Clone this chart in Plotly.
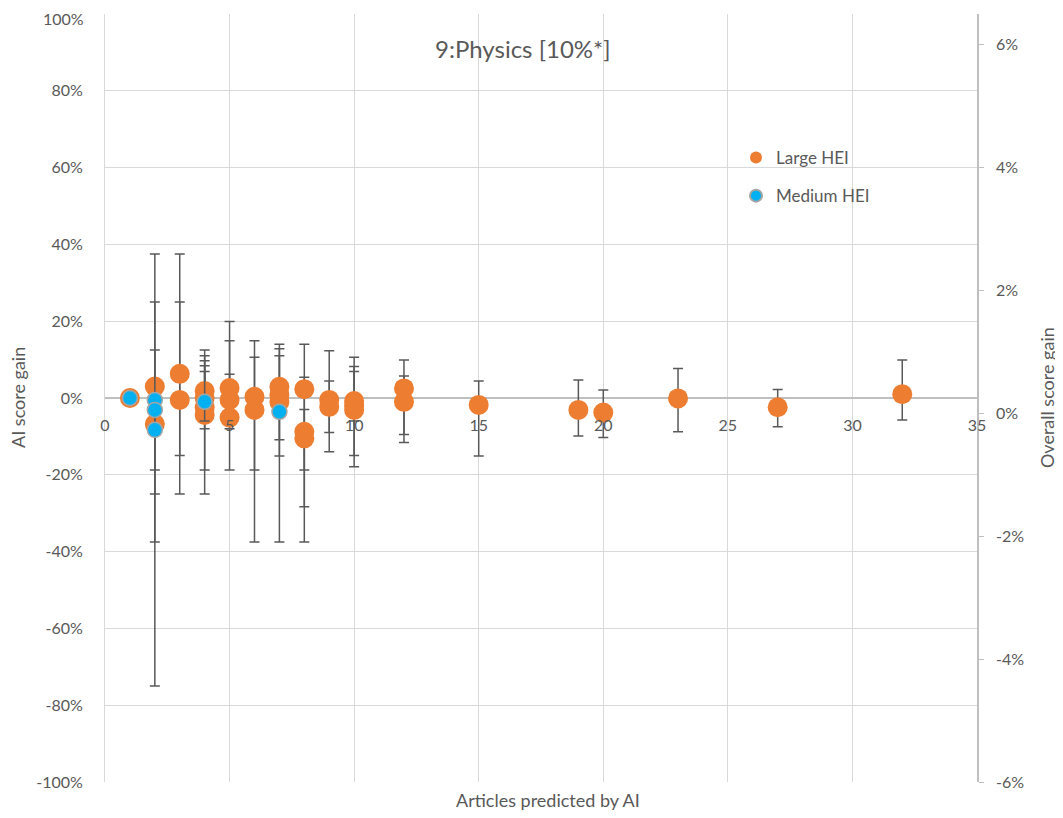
import plotly.graph_objects as go

# ---- data (AI score gain, %) ----
large_x = [1, 2, 2, 3, 3, 4, 4, 4, 4, 5, 5, 5, 6, 6, 7, 7, 7, 8, 8, 8, 9, 9, 10, 10, 10, 12, 12, 15, 19, 20, 23, 27, 32]
large_y = [0, 3.0, -6.8, 6.3, -0.5, 1.8, -2.5, -4.4, 0.0, 2.6, -0.5, -5.1, 0.3, -3.1, 2.9, 0.8, -1.0, 2.3, -8.8, -10.5, -0.5, -2.3, -0.8, -3.1, -2.0, 2.5, -1.0, -1.8, -3.1, -3.8, -0.1, -2.4, 1.0]
large_hi = [0, 37.5, 25.0, 37.5, 25.0, 12.5, 9.7, 11.0, 6.9, 19.9, 14.9, 6.2, 14.9, 10.6, 14.0, 12.8, 11.0, 14.0, 5.4, -3.0, 12.3, 4.4, 10.6, 8.2, 6.9, 9.9, 5.7, 4.4, 4.7, 2.1, 7.7, 2.2, 9.9]
large_lo = [0, -37.5, -18.75, -25.0, -15.0, -25.0, -8.0, -18.75, -5.0, -18.75, -7.0, -8.0, -37.5, -18.75, -37.5, -15.1, -10.9, -37.5, -28.3, -18.75, -14.0, -9.0, -17.9, -15.0, -6.0, -11.6, -9.5, -15.1, -9.9, -10.3, -8.8, -7.5, -5.7]

medium_x = [1, 2, 2, 2, 4, 7]
medium_y = [0, -0.5, -3.1, -8.3, -1.0, -3.6]
medium_hi = [0, -0.5, -3.1, 12.5, 8.4, -3.6]
medium_lo = [0, -0.5, -25.0, -75.0, -6.0, -3.6]

y_ticks = [-100, -80, -60, -40, -20, 0, 20, 40, 60, 80, 100]
y2_ticks = [-6, -4, -2, 0, 2, 4, 6]
x_ticks = [0, 5, 10, 15, 20, 25, 30, 35]

FONT = "Lato"
TXT = "#595959"
ORANGE = "#ED7D31"
BLUE = "#00B0F0"
ERR = "#595959"

def errs(y, hi, lo):
    return [h - v for v, h in zip(y, hi)], [v - l for v, l in zip(y, lo)]

lp, lm = errs(large_y, large_hi, large_lo)
mp, mm = errs(medium_y, medium_hi, medium_lo)

# top tick label is drawn as an annotation so it is not clipped at the page edge
y_ticktext = [f"{v}%" if v != max(y_ticks) else "" for v in y_ticks]

fig = go.Figure()
fig.add_trace(go.Scatter(
    x=large_x, y=large_y, mode="markers", name="Large HEI", legendgroup="a",
    marker=dict(color=ORANGE, size=20, line=dict(width=0)),
    error_y=dict(type="data", array=lp, arrayminus=lm, color=ERR, thickness=1.5, width=5),
))
fig.add_trace(go.Scatter(
    x=medium_x, y=medium_y, mode="markers", name="Medium HEI", legendgroup="b",
    marker=dict(color=BLUE, size=15, line=dict(width=1.5, color="#A5A5A5")),
    error_y=dict(type="data", array=mp, arrayminus=mm, color=ERR, thickness=1.5, width=5),
))
# invisible trace to activate the secondary axis
fig.add_trace(go.Scatter(x=[0], y=[0], yaxis="y2", mode="markers",
                         marker=dict(opacity=0), showlegend=False, hoverinfo="skip"))

# plot area on screen: x 105..977, y 14..782 (page body adds an 8px offset)
fig.update_layout(
    width=1055, height=810,
    margin=dict(l=97, r=86, t=6, b=36),
    paper_bgcolor="white", plot_bgcolor="white",
    font=dict(family=FONT, color=TXT, size=16),
    showlegend=True,
    legend=dict(x=(736 - 105) / 872, y=1 - (140 - 14) / 768, xanchor="left", yanchor="top",
                bgcolor="rgba(0,0,0,0)", font=dict(size=17, color=TXT),
                itemsizing="constant", tracegroupgap=13, traceorder="grouped", itemwidth=30),
    xaxis=dict(range=[0, 35], tickvals=x_ticks, showgrid=True, gridcolor="#D9D9D9", gridwidth=1,
               zeroline=False, showline=False, anchor="free", position=0.5, automargin=False,
               ticks="outside", ticklen=13, tickcolor="rgba(0,0,0,0)",
               tickfont=dict(size=16, color=TXT)),
    yaxis=dict(range=[-100, 100], tickvals=y_ticks, ticktext=y_ticktext,
               showgrid=True, automargin=False, ticklabeloverflow="allow",
               gridcolor="#D9D9D9", gridwidth=1, zeroline=True, zerolinecolor="#BFBFBF",
               zerolinewidth=1.5, showline=True, linecolor="#D9D9D9", linewidth=1,
               ticks="outside", ticklen=18, tickcolor="rgba(0,0,0,0)",
               tickfont=dict(size=16, color=TXT)),
    yaxis2=dict(range=[-6, 6.5], tickvals=y2_ticks, ticktext=[f"{v}%" for v in y2_ticks],
                overlaying="y", side="right", automargin=False, ticklabeloverflow="allow",
                showgrid=False, zeroline=False, showline=True, linecolor="#BFBFBF", linewidth=1.5,
                ticks="outside", ticklen=5, tickcolor="#BFBFBF", ticklabelstandoff=9,
                tickfont=dict(size=16, color=TXT)),
    shapes=[dict(type="rect", xref="paper", yref="paper",
                 x0=(743 - 105) / 872, x1=(875 - 105) / 872,
                 y0=1 - (290 - 14) / 768, y1=1 - (98 - 14) / 768,
                 fillcolor="white", line=dict(width=0), layer="between")],
    annotations=[
        dict(text=f"{max(y_ticks)}%", xref="paper", yref="paper",
             x=-(105 - 85) / 872, y=1 + (14 - 8) / 768, showarrow=False,
             font=dict(size=16, color=TXT), xanchor="right", yanchor="top", borderpad=0),
        dict(text="9:Physics [10%*]", xref="paper", yref="paper",
             x=(523 - 105) / 872, y=1 - (48 - 14) / 768, showarrow=False,
             font=dict(size=24, color=TXT), xanchor="center", yanchor="middle"),
        dict(text="AI score gain", xref="paper", yref="paper",
             x=-(105 - 18) / 872, y=0.5, textangle=-90, showarrow=False,
             font=dict(size=18, color=TXT), xanchor="center", yanchor="middle"),
        dict(text="Overall score gain", xref="paper", yref="paper",
             x=1 + (1047 - 977) / 872, y=0.5, textangle=-90, showarrow=False,
             font=dict(size=18, color=TXT), xanchor="center", yanchor="middle"),
        dict(text="Articles predicted by AI", xref="paper", yref="paper",
             x=(548 - 105) / 872, y=-(800 - 782) / 768, showarrow=False,
             font=dict(size=18, color=TXT), xanchor="center", yanchor="middle"),
    ],
)

fig.write_html("out.html")
